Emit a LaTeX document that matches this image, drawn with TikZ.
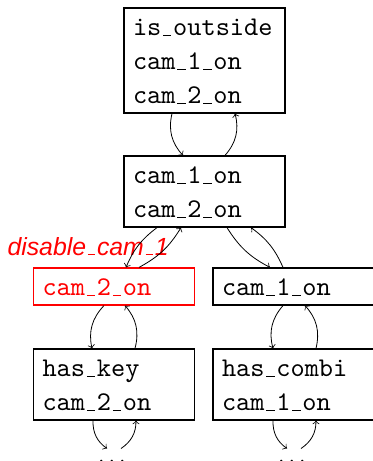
\documentclass[tikz,border=0pt]{standalone}
\usepackage{fontspec}
\usepackage{tikz}
\newfontfamily\lblfont{Liberation Sans}
\newfontfamily\boxfont{lmmono10-regular.otf}
\newcommand{\us}{\kern.07em\rule{.3em}{.45pt}\kern.07em}
\newcommand{\ls}{\rule[-4pt]{0pt}{17pt}}
\tikzset{
	stbox/.style={draw, line width=.6pt, text width=71.5pt, align=left, inner xsep=4.5pt, inner ysep=.75pt,
		font=\boxfont\fontsize{13.5}{17}\selectfont},
	hl/.style={draw=red, text=red},
	more/.style={anchor=north, inner sep=0pt, inner ysep=5.5pt, font=\fontsize{12}{14}\selectfont}
}

\begin{document}
\begin{tikzpicture}[x=.5pt, y=-.5pt]
			\useasboundingbox (0,0) rectangle (373,461);
			\node[stbox] (out) at (204.5,60.5) {\ls is\us outside\\\ls cam\us 1\us on\\\ls cam\us 2\us on};
			\node[stbox] (both) at (204.5,191.5) {\ls cam\us 1\us on\\\ls cam\us 2\us on};
			\node[stbox,hl] (c2) at (114,286.5) {\ls cam\us 2\us on};
			\node[stbox] (c1) at (293.5,286.5) {\ls cam\us 1\us on};
			\node[stbox] (key) at (114,384.5) {\ls has\us key\\\ls cam\us 2\us on};
			\node[stbox] (combi) at (293.5,384.5) {\ls has\us combi\\\ls cam\us 1\us on};
			\node[more] (dl) at (112,448.5) {$\ldots$};
			\node[more] (dr) at (292,448.5) {$\ldots$};
			\node[anchor=base east, inner sep=0pt, text=red, font=\lblfont\fontsize{12.4}{14}\selectfont\itshape] (dis) at (169,255) {disable\us cam\us 1};
			\path[->, line width=.4pt, bend right=28]
			([xshift=-16.25pt]out.south) edge ([xshift=-10.75pt]both.north)
			([xshift=10.25pt]both.north) edge ([xshift=15.25pt]out.south)
			([xshift=-5pt]c2.south) edge ([xshift=-11pt]key.north)
			([xshift=10.5pt]key.north) edge ([xshift=5.5pt]c2.south)
			([xshift=-5.25pt]c1.south) edge ([xshift=-10.25pt]combi.north)
			([xshift=11.25pt]combi.north) edge ([xshift=5.75pt]c1.south)
			([xshift=-10.5pt]key.south) edge ([xshift=-2.5pt]dl.north)
			([xshift=4.5pt]dl.north) edge ([xshift=11pt]key.south)
			([xshift=-10.25pt]combi.south) edge ([xshift=-2.5pt]dr.north)
			([xshift=4.5pt]dr.north) edge ([xshift=11.25pt]combi.south);
			\path[->, line width=.4pt, bend right=15]
			([xshift=-23.75pt]both.south) edge ([xshift=6pt]c2.north)
			([xshift=12.5pt]c2.north) edge ([xshift=-11.75pt]both.south)
			([xshift=11.25pt]both.south) edge ([xshift=-11.75pt]c1.north)
			([xshift=-5.25pt]c1.north) edge ([xshift=23.25pt]both.south);
		\end{tikzpicture}
\end{document}
